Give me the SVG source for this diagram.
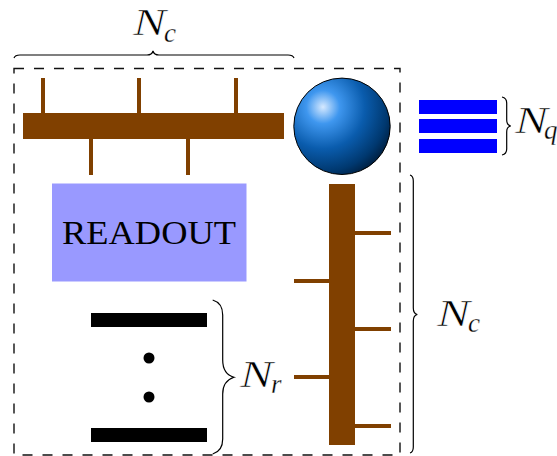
<svg xmlns="http://www.w3.org/2000/svg" width="557" height="456" viewBox="0 0 557 456">
<style>
.wood{fill:#804000}
.q{fill:#0000ff}
.k{fill:#000}
.brace{fill:none;stroke:#000;stroke-width:1.2}
.big{font-family:"Liberation Serif",serif;font-style:italic;font-size:38px;fill:#000;stroke:#fff;stroke-width:0.6}
.sub{font-family:"Liberation Serif",serif;font-style:italic;font-size:27px;fill:#000;stroke:#fff;stroke-width:0.3}
.ro{font-family:"Liberation Serif",serif;font-size:33px;fill:#000}
</style>
<defs>
<radialGradient id="ball" gradientUnits="userSpaceOnUse" cx="323" cy="107" r="76" fx="323" fy="107">
<stop offset="0" stop-color="#d6e9ff"/>
<stop offset="0.22" stop-color="#3f97ef"/>
<stop offset="0.55" stop-color="#0a5cad"/>
<stop offset="0.85" stop-color="#00386f"/>
<stop offset="1" stop-color="#001f40"/>
</radialGradient>
</defs>
<g id="frame"><rect x="14" y="68.5" width="386" height="386.5" fill="none" stroke="#111" stroke-width="1.4" stroke-dasharray="10 10"/></g>
<g id="top-resonator">
<rect class="wood" x="23" y="113" width="261" height="26"/>
<rect class="wood" x="41" y="78" width="4" height="35"/>
<rect class="wood" x="137" y="78" width="4" height="35"/>
<rect class="wood" x="234" y="78" width="4" height="35"/>
<rect class="wood" x="89" y="139" width="4" height="36"/>
<rect class="wood" x="186" y="139" width="4" height="36"/>
</g>
<g id="readout">
<rect x="52" y="183.500" width="194.500" height="98" fill="#9999ff"/>
<text class="ro" x="62" y="244" textLength="174" lengthAdjust="spacingAndGlyphs">READOUT</text>
</g>
<g id="sphere"><circle cx="342" cy="126.300" r="48.200" fill="url(#ball)" stroke="#000" stroke-width="1"/></g>
<g id="side-resonator">
<rect class="wood" x="329" y="184" width="26" height="261"/>
<rect class="wood" x="355" y="231" width="36" height="4"/>
<rect class="wood" x="355" y="327" width="36" height="4"/>
<rect class="wood" x="355" y="424" width="36" height="4"/>
<rect class="wood" x="294" y="279" width="35" height="4"/>
<rect class="wood" x="294" y="375" width="35" height="4"/>
</g>
<g id="qubits">
<rect class="q" x="419" y="100" width="78" height="14"/>
<rect class="q" x="419" y="119" width="78" height="14"/>
<rect class="q" x="419" y="139" width="78" height="14"/>
</g>
<g id="registers">
<rect class="k" x="91" y="313" width="116" height="14"/>
<rect class="k" x="91" y="428" width="116" height="14"/>
<circle class="k" cx="149" cy="358" r="5.500"/>
<circle class="k" cx="149" cy="397" r="5.500"/>
</g>
<g id="connectors">
<path class="brace" d="M14 58 Q15 55 20 55 H147 Q152 55 153 51 Q154 55 159 55 H288 Q293 55 294 58"/>
<path class="brace" d="M502 97 Q506.700 98 506.700 103 V120 Q506.700 125 510.700 126 Q506.700 127 506.700 132 V149 Q506.700 154 502 155"/>
<path class="brace" d="M410 175 Q413.300 176 413.300 181 V308 Q413.300 313.500 417.300 314.500 Q413.300 315.500 413.300 321 V447 Q413.300 452 410 453"/>
<path class="brace" d="M212.700 300 Q222.700 303 222.700 315 V360 Q222.700 374 234 377.300 Q222.700 381 222.700 394 V439 Q222.700 451 212.700 454"/>
</g>
<g id="labels">
<text class="big" x="133" y="35" textLength="33" lengthAdjust="spacingAndGlyphs">N</text>
<text class="sub" x="164" y="42">c</text>
<text class="big" x="515" y="133" textLength="33" lengthAdjust="spacingAndGlyphs">N</text>
<text class="sub" x="544" y="139">q</text>
<text class="big" x="437" y="326" textLength="33" lengthAdjust="spacingAndGlyphs">N</text>
<text class="sub" x="468" y="332">c</text>
<text class="big" x="240" y="387" textLength="33" lengthAdjust="spacingAndGlyphs">N</text>
<text class="sub" x="271" y="393">r</text>
</g>
</svg>
